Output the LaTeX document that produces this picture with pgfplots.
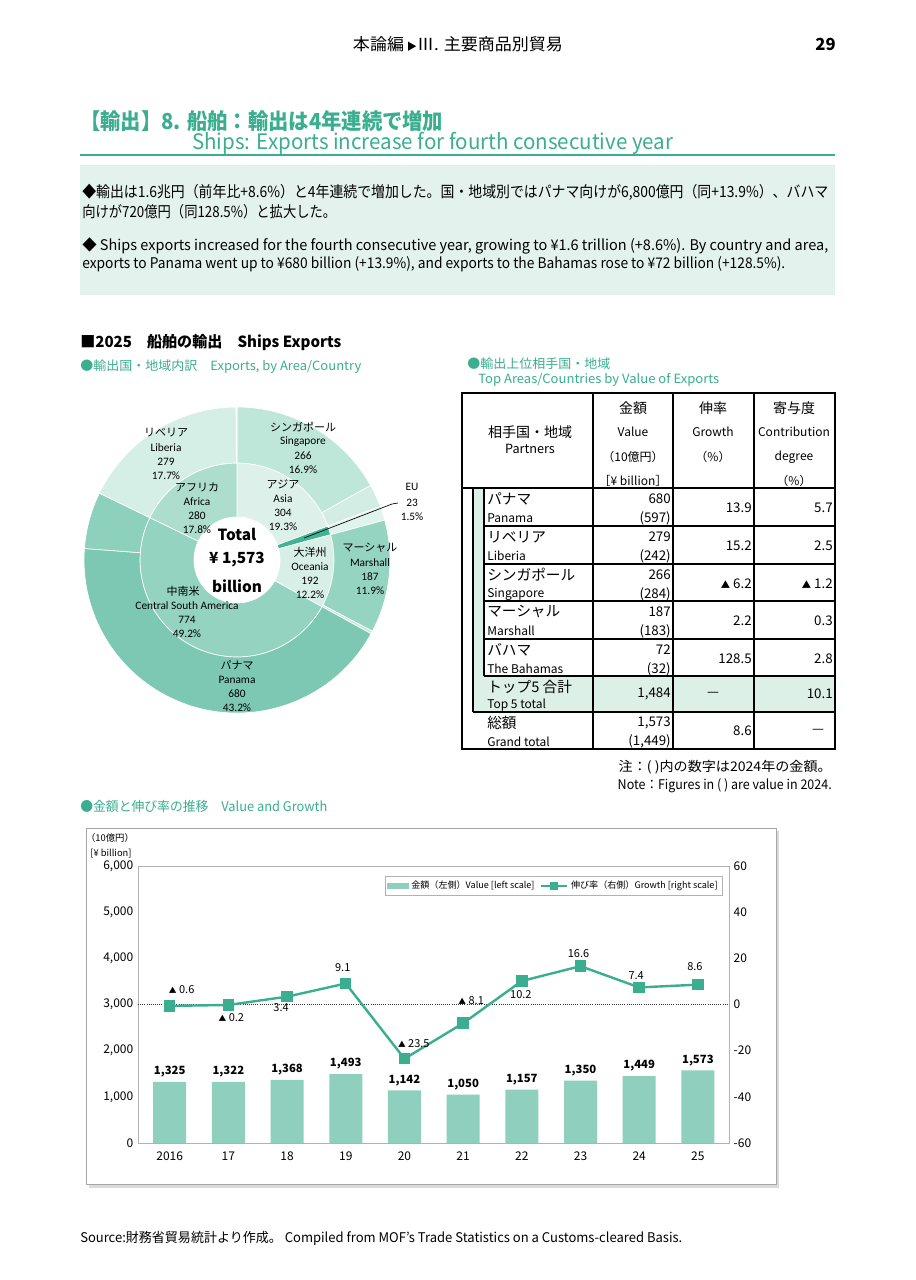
\documentclass[border=0pt]{standalone}
\usepackage{fontspec}
\usepackage{graphicx}
\usepackage{pgfplots}
\pgfplotsset{compat=1.18}
\setmainfont{Noto Sans CJK JP}
\newfontfamily\calf{Carlito}
\pgfplotsset{/pgf/number format/assume math mode=true}
\definecolor{tealT}{HTML}{3AAE8F}
\definecolor{boxbg}{HTML}{E3F2EC}
\definecolor{boxbg2}{HTML}{DDF0E8}
\definecolor{barC}{HTML}{8ED0BD}
\definecolor{lineC}{HTML}{3AAE8F}
\definecolor{cSing}{HTML}{BEE6D9}
\definecolor{cAsiaO}{HTML}{D3EDE4}
\definecolor{cEUo}{HTML}{E0F3EC}
\definecolor{cMar}{HTML}{95D4C1}
\definecolor{cOceO}{HTML}{C8EADF}
\definecolor{cPan}{HTML}{7DC8B2}
\definecolor{cCSAo}{HTML}{8DD0BC}
\definecolor{cLib}{HTML}{D6EFE6}
\definecolor{cAfrO}{HTML}{D6EFE6}
\definecolor{cAsia}{HTML}{DDF1EA}
\definecolor{cEU}{HTML}{3FB394}
\definecolor{cOce}{HTML}{D8EFE7}
\definecolor{cCSA}{HTML}{93D3C0}
\definecolor{cAfr}{HTML}{ADDDCD}
\newlength\pxu \setlength\pxu{0.75pt}
\newcommand\fs[1]{\fontsize{#1}{#1}\selectfont}
\newcommand\fw[2]{\resizebox{#1\pxu}{\height}{#2}}
\newcommand\tri{\scalebox{0.7}{▲}}
% donut ring: #1 inner radius, #2 outer radius, #3 list pct/colour
\newcommand\ring[3]{%
  \xdef\ringS{90}%
  \foreach \p/\c in {#3}{%
    \pgfmathsetmacro\ringE{\ringS-3.6*\p}%
    \edef\tmp{\noexpand\fill[\c, draw=white, line width=0.5pt] (axis cs:{#2*cos(\ringS)},{#2*sin(\ringS)}) arc[start angle=\ringS, end angle=\ringE, radius=#2*0.75pt] -- (axis cs:{#1*cos(\ringE)},{#1*sin(\ringE)}) arc[start angle=\ringE, end angle=\ringS, radius=#1*0.75pt] -- cycle;}%
    \tmp
    \xdef\ringS{\ringE}%
  }%
}
\newcommand\trow[7]{%
  \node[anchor=west] at (487,{#1+11}) {\fs{11}#2};
  \node[anchor=west] at (487,{#1+30}) {\fs{9}#3};
  \node[anchor=east] at (671,{#1+11}) {\fs{10}#4};
  \node[anchor=east] at (671,{#1+30}) {\fs{10}#5};
  \node[anchor=east] at (752,{#1+20}) {\fs{10}#6};
  \node[anchor=east] at (833,{#1+20}) {\fs{10}#7};
}
\newcommand\dl[6]{%
  \node at (#1,#2) {\fs{8.25}#3};
  \node at (#1,{#2+15}) {\fs{8.5}\calf #4};
  \node at (#1,{#2+29}) {\fs{8.5}\calf #5};
  \node at (#1,{#2+43}) {\fs{8.5}\calf #6};}
\begin{document}
\begin{tikzpicture}
\begin{scope}[x=0.75pt,y=-0.75pt,every node/.style={inner sep=0pt}]
\fill[white] (0,0) rectangle (916,1280);
\coordinate (dc) at (237,560);
\coordinate (co) at (138,1143);
% header
\node at (458,44) {\fw{210}{\fs{12.5}本論編\,\scalebox{0.6}{▶}Ⅲ. 主要商品別貿易}};
\node[anchor=east] at (836,44) {\fs{12.5}\bfseries 29};
% title
\node[anchor=west, text=tealT] at (80,121) {\fw{363}{\fs{16.5}\bfseries 【輸出】8. 船舶：輸出は4年連続で増加}};
\node[anchor=west, text=tealT] at (192,143) {\fw{481}{\fs{16}Ships: Exports increase for fourth consecutive year}};
\draw[tealT, line width=1.4pt] (80,155) -- (835,155);
% text box
\fill[boxbg] (80,165) rectangle (835,295);
\node[anchor=west] at (82,192) {\fw{746}{\fs{11.5}◆輸出は1.6兆円（前年比+8.6\%）と4年連続で増加した。国・地域別ではパナマ向けが6,800億円（同+13.9\%）、バハマ}};
\node[anchor=west] at (82,212) {\fw{254}{\fs{11.5}向けが720億円（同128.5\%）と拡大した。}};
\node[anchor=west] at (82,246) {\fw{746}{\fs{11}◆ Ships exports increased for the fourth consecutive year, growing to ¥1.6 trillion (+8.6\%). By country and area,}};
\node[anchor=west] at (82,264) {\fw{703}{\fs{11}exports to Panama went up to ¥680 billion (+13.9\%), and exports to the Bahamas rose to ¥72 billion (+128.5\%).}};
% section titles
\node[anchor=west] at (80,343) {\fw{261}{\fs{11.5}\bfseries ■2025　船舶の輸出　Ships Exports}};
\node[anchor=west, text=tealT] at (80,367) {\fw{281}{\fs{9.5}●輸出国・地域内訳　Exports, by Area/Country}};
\node[anchor=west, text=tealT] at (467,364) {\fw{143}{\fs{9.5}●輸出上位相手国・地域}};
\node[anchor=west, text=tealT] at (478,380) {\fw{241}{\fs{9.5}Top Areas/Countries by Value of Exports}};
\node[anchor=west, text=tealT] at (80,806) {\fw{247}{\fs{10}●金額と伸び率の推移　Value and Growth}};
\node[anchor=west] at (80,1238) {\fw{602}{\fs{10}Source:財務省貿易統計より作成。 Compiled from MOF's Trade Statistics on a Customs-cleared Basis.}};
\node[anchor=east] at (832,767) {\fw{213}{\fs{10}注：( )内の数字は2024年の金額。}};
\node[anchor=east] at (832,786) {\fw{214}{\fs{10}Note：Figures in ( ) are value in 2024.}};
% chart frame
\fill[black!14] (89,1184) rectangle (778,1188);
\fill[black!14] (776,831) rectangle (779,1188);
\draw[black!35, line width=0.6pt] (86,828) rectangle (776,1184);
\node at (110,838) {\fs{7}（10億円）};
\node at (111,854) {\fs{7}[¥ billion]};
\end{scope}

% donut
\begin{axis}[at={(dc)}, anchor=center, x=0.75pt, y=0.75pt, xmin=-200, xmax=200, ymin=-200, ymax=200, hide axis]
\ring{43}{97}{19.3/cAsia, 1.5/cEU, 12.2/cOce, 49.2/cCSA, 17.8/cAfr}
\ring{97}{153}{16.9/cSing, 2.4/cAsiaO, 1.5/cEUo, 11.9/cMar, 0.3/cOceO, 43.2/cPan, 6.0/cCSAo, 17.7/cLib, 0.1/cAfrO}
\end{axis}

% bars
\begin{axis}[at={(co)}, anchor=south west, scale only axis, width=443.25pt, height=207.75pt,
  xmin=-0.54, xmax=9.53, ymin=0, ymax=6000,
  xtick={0,...,9}, xticklabels={2016,17,18,19,20,21,22,23,24,25},
  ytick={0,1000,...,6000}, scaled y ticks=false,
  major tick length=0pt, axis line style={draw=black!30},
  tick label style={font=\fs{9}},
  xticklabel style={yshift=-3pt}]
\addplot[ybar, bar width=24.75pt, fill=barC, draw=none,
  nodes near coords, nodes near coords style={font=\fs{8.5}\bfseries, yshift=0pt}]
  coordinates {(0,1325) (1,1322) (2,1368) (3,1493) (4,1142) (5,1050) (6,1157) (7,1350) (8,1449) (9,1573)};
\end{axis}

% growth
\begin{axis}[at={(co)}, anchor=south west, scale only axis, width=443.25pt, height=207.75pt,
  xmin=-0.54, xmax=9.53, ymin=-60, ymax=60,
  axis y line*=right, axis x line=none, ytick={-60,-40,...,60},
  major tick length=0pt, axis line style={draw=none},
  tick label style={font=\fs{9}},
  legend columns=2, legend cell align=left,
  legend style={at={(rel axis cs:0.989,0.964)}, anchor=north east, draw=black!30, font=\fs{6.8}, inner sep=1.5pt,
    /tikz/every even column/.append style={column sep=2pt}}]
\draw[densely dotted, black!80, line width=0.6pt] (axis cs:-0.54,0) -- (axis cs:9.53,0);
\addlegendimage{legend image code/.code={\fill[barC] (0pt,-2pt) rectangle (16pt,2pt);}}
\addlegendentry{金額（左側）Value [left scale]}
\addplot[lineC, line width=1.8pt, mark=square*, mark size=3.4pt, mark options={fill=lineC, solid},
  legend image code/.code={\draw[lineC, line width=1.4pt] (0pt,0pt) -- (20pt,0pt); \fill[lineC] (8pt,-2pt) rectangle (12pt,2pt);}]
  coordinates {(0,-0.6) (1,-0.2) (2,3.4) (3,9.1) (4,-23.5) (5,-8.1) (6,10.2) (7,16.6) (8,7.4) (9,8.6)};
\addlegendentry{伸び率（右側）Growth [right scale]}
\begin{scope}[every node/.style={font=\fs{8.25}}]
\node[xshift=9pt, yshift=12pt] at (axis cs:0,-0.6) {\tri\ 0.6};
\node[xshift=2.25pt, yshift=-9.4pt] at (axis cs:1,-0.2) {\tri\ 0.2};
\node[xshift=-4.5pt, yshift=-8.25pt] at (axis cs:2,3.4) {3.4};
\node[xshift=-2.25pt, yshift=12pt] at (axis cs:3,9.1) {9.1};
\node[xshift=7pt, yshift=11.25pt] at (axis cs:4,-23.5) {\tri\ 23.5};
\node[xshift=6pt, yshift=17pt] at (axis cs:5,-8.1) {\tri\ 8.1};
\node[xshift=-0.75pt, yshift=-10pt] at (axis cs:6,10.2) {10.2};
\node[xshift=-1.5pt, yshift=9.75pt] at (axis cs:7,16.6) {16.6};
\node[xshift=-2.25pt, yshift=9pt] at (axis cs:8,7.4) {7.4};
\node[xshift=-2.25pt, yshift=13.5pt] at (axis cs:9,8.6) {8.6};
\end{scope}
\end{axis}

\begin{scope}[x=0.75pt,y=-0.75pt,every node/.style={inner sep=0pt}]
% donut labels
\fill[white] (dc) circle (32.25pt);
\draw[black, line width=0.5pt] (304,538) -- (392,504) -- (398,503);
\dl{166}{433}{リベリア}{Liberia}{279}{17.7\%}
\dl{303}{427}{シンガポール}{Singapore}{266}{16.9\%}
\dl{283}{484}{アジア}{Asia}{304}{19.3\%}
\dl{197}{487}{アフリカ}{Africa}{280}{17.8\%}
\dl{310}{552}{大洋州}{Oceania}{192}{12.2\%}
\dl{370}{548}{マーシャル}{Marshall}{187}{11.9\%}
\dl{237}{665}{パナマ}{Panama}{680}{43.2\%}
\node at (183,591) {\fs{8.25}中南米};
\node at (187,606) {\fs{8.5}\calf Central South America};
\node at (187,620) {\fs{8.5}\calf 774};
\node at (187,634) {\fs{8.5}\calf 49.2\%};
\node at (412,487) {\fs{8.5}\calf EU};
\node at (412,503) {\fs{8.5}\calf 23};
\node at (412,517) {\fs{8.5}\calf 1.5\%};
\node at (237,534) {\fs{11.5}\bfseries Total};
\node at (237,560) {\fs{11.5}\bfseries ¥ 1,573};
\node at (237,586) {\fs{11.5}\bfseries billion};
% table
\fill[boxbg2] (473,488) rectangle (484,676);
\fill[boxbg2] (473,676) rectangle (835,712);
\draw[line width=1.2pt] (462,393) rectangle (835,749);
\foreach \x in {593,673,754} \draw[line width=0.8pt] (\x,393) -- (\x,749);
\draw[line width=0.8pt] (462,488) -- (835,488);
\foreach \y in {526,564,601,639,676} \draw[line width=0.8pt] (484,\y) -- (835,\y);
\draw[line width=0.8pt] (473,712) -- (835,712);
\draw[line width=1pt] (473,488) -- (473,712);
\draw[line width=0.8pt] (484,488) -- (484,676);
\node at (530,432) {\fs{10.5}相手国・地域};
\node at (530,449) {\fs{9.5}Partners};
\node at (633,408) {\fs{10.5}金額};
\node at (633,432) {\fs{9}Value};
\node at (633,457) {\fs{9}（10億円）};
\node at (633,481) {\fs{9}［¥ billion］};
\node at (713,408) {\fs{10.5}伸率};
\node at (713,432) {\fs{9}Growth};
\node at (713,457) {\fs{9}（\%）};
\node at (794,408) {\fs{10.5}寄与度};
\node at (794,432) {\fs{9}Contribution};
\node at (794,457) {\fs{9}degree};
\node at (794,481) {\fs{9}（\%）};
\trow{488}{パナマ}{Panama}{680}{(597)}{13.9}{5.7}
\trow{526}{リベリア}{Liberia}{279}{(242)}{15.2}{2.5}
\trow{564}{シンガポール}{Singapore}{266}{(284)}{\tri\ 6.2}{\tri\ 1.2}
\trow{601}{マーシャル}{Marshall}{187}{(183)}{2.2}{0.3}
\trow{639}{バハマ}{The Bahamas}{72}{(32)}{128.5}{2.8}
\node[anchor=west] at (487,687) {\fs{11}トップ5 合計};
\node[anchor=west] at (487,705) {\fs{9}Top 5 total};
\node[anchor=east] at (671,694) {\fs{10}1,484};
\node at (713,694) {\fs{10}—};
\node[anchor=east] at (833,694) {\fs{10}10.1};
\node[anchor=west] at (487,723) {\fs{11}総額};
\node[anchor=west] at (487,742) {\fs{9}Grand total};
\node[anchor=east] at (671,723) {\fs{10}1,573};
\node[anchor=east] at (671,741) {\fs{10}(1,449)};
\node[anchor=east] at (752,731) {\fs{10}8.6};
\node at (818,731) {\fs{10}—};
\end{scope}
\pgfresetboundingbox
\path[use as bounding box] (0,0) rectangle (687pt,-960pt);
\end{tikzpicture}
\end{document}
